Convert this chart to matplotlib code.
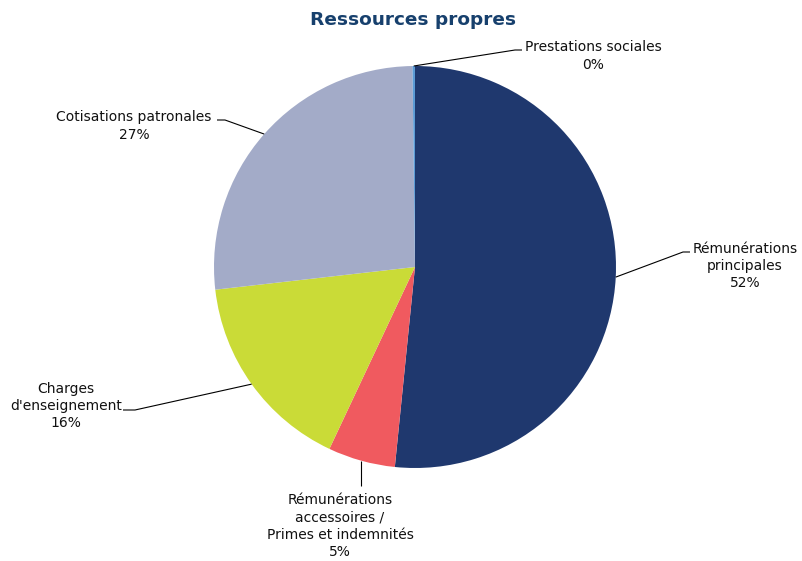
import numpy as np
import matplotlib.pyplot as plt

categories = ["Rémunérations\nprincipales", "Rémunérations\naccessoires /\nPrimes et indemnités",
              "Charges\nd'enseignement", "Cotisations patronales", "Prestations sociales"]
values = [51.6, 5.4, 16.2, 26.6, 0.2]
pct_labels = ["52%", "5%", "16%", "27%", "0%"]
colors = ["#1F386E", "#F05A5F", "#CADB37", "#A3ABC8", "#5B9BD5"]

W, H = 803, 561
fig = plt.figure(figsize=(W / 100, H / 100), dpi=100)
ax = fig.add_axes([0, 0, 1, 1])

cx, cy, r = 415, H - 267, 201
wedges, _ = ax.pie(values, colors=colors, startangle=90, counterclock=False,
                   center=(cx, cy), radius=r, frame=True,
                   wedgeprops=dict(linewidth=0))
ax.set_xlim(0, W)
ax.set_ylim(0, H)
ax.set_aspect('equal')
ax.axis('off')

# label layout (pixel positions, top-based y)
layout = [
    dict(tx=745, ty=266, elbow=(683, 252), end=(690, 252), frac=0.5),
    dict(tx=340, ty=526, elbow=None, end=None, vlen=486, frac=0.5),
    dict(tx=66, ty=406, elbow=(135, 410), end=(123, 410), frac=0.5),
    dict(tx=134, ty=126, elbow=(225, 120), end=(217, 120), frac=0.5),
    dict(tx=593, ty=56, elbow=(515, 50), end=(522, 50), frac=0.5),
]

for w, cat, pct, lay in zip(wedges, categories, pct_labels, layout):
    ang = np.deg2rad(w.theta1 + (w.theta2 - w.theta1) * lay['frac'])
    ex, ey = cx + r * np.cos(ang), cy + r * np.sin(ang)
    if lay['elbow'] is None:
        xs, ys = [ex, ex], [ey, H - lay['vlen']]
    else:
        el = (lay['elbow'][0], H - lay['elbow'][1])
        en = (lay['end'][0], H - lay['end'][1])
        xs, ys = [ex, el[0], en[0]], [ey, el[1], en[1]]
    ax.plot(xs, ys, color='black', lw=0.8, solid_capstyle='butt')
    ax.text(lay['tx'], H - lay['ty'], cat + "\n" + pct, ha='center', va='center',
            fontsize=10, color='#111111', linespacing=1.3, family='DejaVu Sans')

fig.text(413 / W, 1 - 20 / H, "Ressources propres", ha='center', va='center',
         fontsize=13.3, fontweight='bold', color='#17406D')

fig.savefig('out.png', dpi=100)
